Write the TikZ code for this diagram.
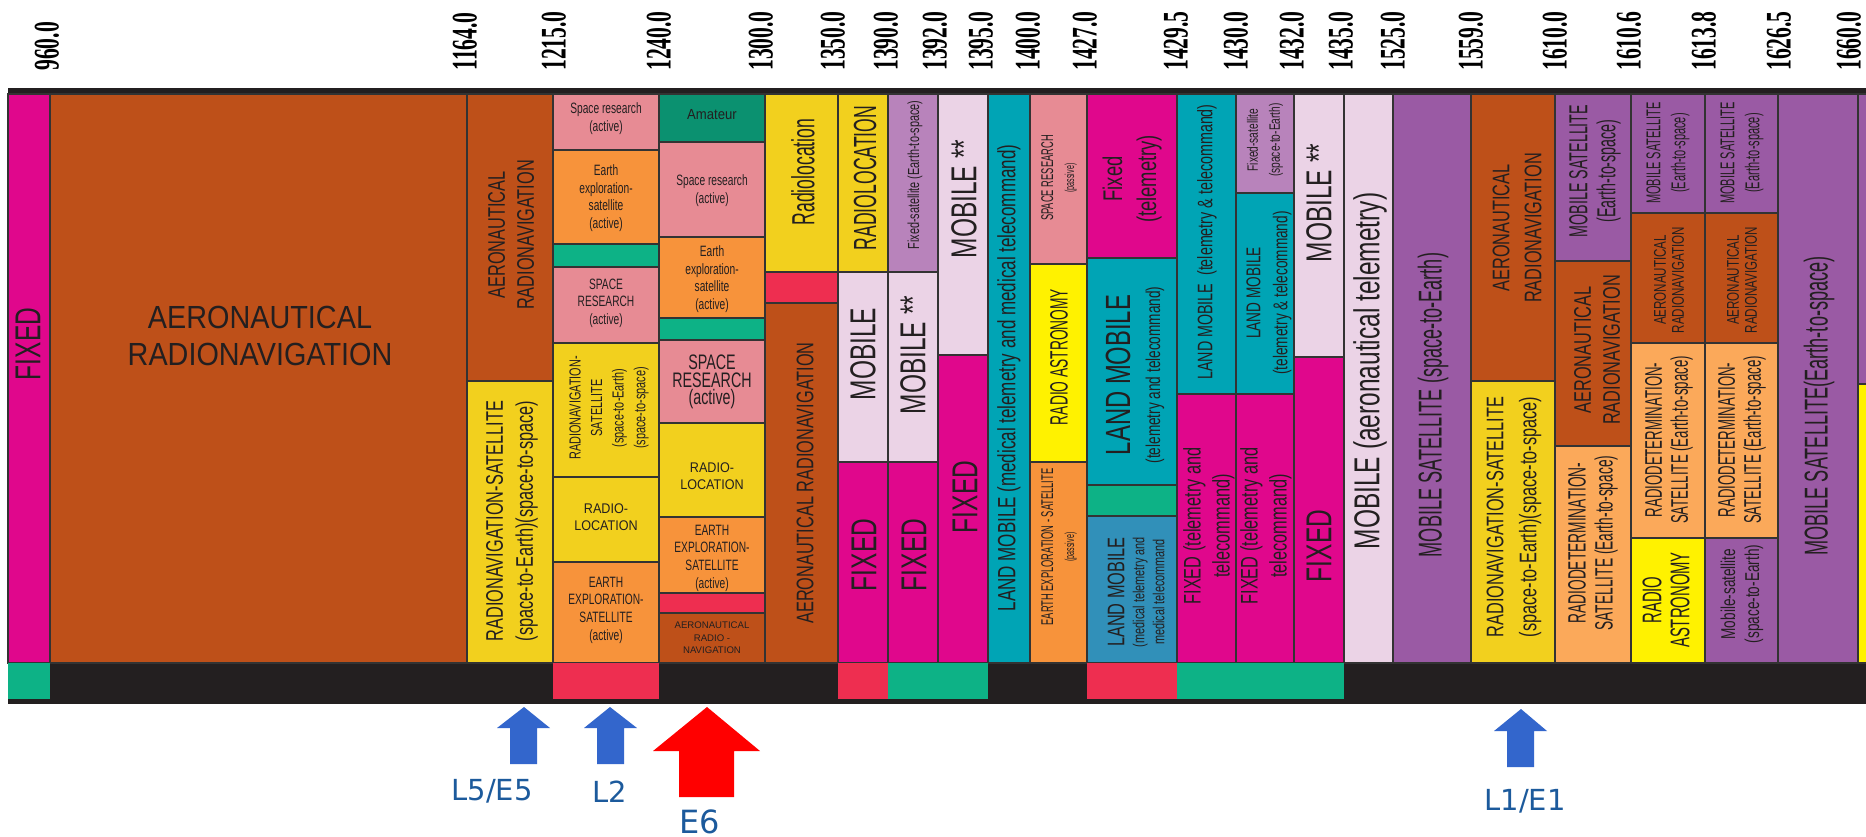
\documentclass[tikz,border=0pt]{standalone}
\usepackage{fontspec}
\setmainfont{Liberation Sans}
\newfontfamily\cnd[FakeStretch=0.68]{Liberation Sans}
\newfontfamily\cndx[FakeStretch=0.55]{Liberation Sans}
\newfontfamily\wid[FakeStretch=0.9]{Liberation Sans}
\newfontfamily\numf[FakeStretch=0.6]{Liberation Serif}
\newfontfamily\lblf{DejaVu Sans}
\newcommand\fz[2]{\fontsize{#1pt}{#2pt}\selectfont}
\definecolor{mag}{HTML}{E0078C}
\definecolor{rust}{HTML}{BE5019}
\definecolor{gold}{HTML}{F2D01E}
\definecolor{byel}{HTML}{FFF200}
\definecolor{pnk}{HTML}{E78B94}
\definecolor{org}{HTML}{F7933B}
\definecolor{lorg}{HTML}{FBA95A}
\definecolor{grn}{HTML}{0DB286}
\definecolor{dgrn}{HTML}{0B9170}
\definecolor{redA}{HTML}{EE2E50}
\definecolor{lpink}{HTML}{EBD3E6}
\definecolor{mauve}{HTML}{B883BB}
\definecolor{purp}{HTML}{9A5AA4}
\definecolor{tealA}{HTML}{00A4B5}
\definecolor{steel}{HTML}{3190B9}
\definecolor{blk}{HTML}{231F20}
\definecolor{bord}{HTML}{333333}
\definecolor{txt}{HTML}{231F20}
\definecolor{abl}{HTML}{3366CC}
\definecolor{ared}{HTML}{FF0000}
\definecolor{lblc}{HTML}{1C5A9C}
\newcommand\cellr[5]{\filldraw[cell,fill=#5] (#1,#2) rectangle (#3,#4);}
\begin{document}
\begin{tikzpicture}[x=0.5pt,y=-0.5pt,
 cell/.style={draw=bord,line width=1.1pt},
 vt/.style={rotate=90,align=center,inner sep=0pt,text=txt},
 ht/.style={align=center,inner sep=0pt,text=txt},
 numlab/.style={rotate=90,anchor=west,inner sep=0pt,font=\numf\bfseries\fz{18}{20}},
 lab/.style={anchor=base,inner sep=0pt,text=lblc,font=\lblf\fz{14.5}{18}},
 big/.style={vt,font=\cnd\fz{18}{20}}]
\useasboundingbox (0,0) rectangle (1866,836);
\fill[white] (0,0) rectangle (1866,836);
% frequency labels
\foreach \posx/\flab [count=\k] in {47/960.0,465/1164.0,554/1215.0,659/1240.0,761/1300.0,833/1350.0,886/1390.0,935/1392.0,981/1395.0,1028/1400.0,1085/1427.0,1176/1429.5,1236/1430.0,1292/1432.0,1341/1435.0,1393/1525.0,1471/1559.0,1555/1610.0,1629/1610.6,1704/1613.8,1779/1626.5,1849/1660.0}
 {\node[numlab] (f\k) at (\posx,71) {\flab};}
% dark frame
\fill[blk] (8,88) rectangle (1866,704);
% columns
\cellr{8}{94}{50}{663}{mag}
\cellr{50}{94}{467}{663}{rust}
\cellr{467}{94}{553}{381}{rust}
\cellr{467}{381}{553}{663}{gold}
% D
\cellr{553}{94}{659}{150}{pnk}
\cellr{553}{150}{659}{244}{org}
\cellr{553}{244}{659}{267}{grn}
\cellr{553}{267}{659}{343}{pnk}
\cellr{553}{343}{659}{477}{gold}
\cellr{553}{477}{659}{562}{gold}
\cellr{553}{562}{659}{663}{org}
% E
\cellr{659}{94}{765}{142}{dgrn}
\cellr{659}{142}{765}{237}{pnk}
\cellr{659}{237}{765}{318}{org}
\cellr{659}{318}{765}{340}{grn}
\cellr{659}{340}{765}{423}{pnk}
\cellr{659}{423}{765}{517}{gold}
\cellr{659}{517}{765}{593}{org}
\cellr{659}{593}{765}{613}{redA}
\cellr{659}{613}{765}{663}{rust}
% F
\cellr{765}{94}{838}{272}{gold}
\cellr{765}{272}{838}{303}{redA}
\cellr{765}{303}{838}{663}{rust}
% G
\cellr{838}{94}{888}{272}{gold}
\cellr{838}{272}{888}{462}{lpink}
\cellr{838}{462}{888}{663}{mag}
% H
\cellr{888}{94}{938}{272}{mauve}
\cellr{888}{272}{938}{462}{lpink}
\cellr{888}{462}{938}{663}{mag}
% I
\cellr{938}{94}{988}{355}{lpink}
\cellr{938}{355}{988}{663}{mag}
% J
\cellr{988}{94}{1030}{663}{tealA}
% K
\cellr{1030}{94}{1087}{264}{pnk}
\cellr{1030}{264}{1087}{462}{byel}
\cellr{1030}{462}{1087}{663}{org}
% L
\cellr{1087}{94}{1177}{258}{mag}
\cellr{1087}{258}{1177}{485}{tealA}
\cellr{1087}{485}{1177}{516}{grn}
\cellr{1087}{516}{1177}{663}{steel}
% M
\cellr{1177}{94}{1236}{394}{tealA}
\cellr{1177}{394}{1236}{663}{mag}
% N
\cellr{1236}{94}{1294}{193}{mauve}
\cellr{1236}{193}{1294}{394}{tealA}
\cellr{1236}{394}{1294}{663}{mag}
% O
\cellr{1294}{94}{1344}{357}{lpink}
\cellr{1294}{357}{1344}{663}{mag}
% P Q
\cellr{1344}{94}{1393}{663}{lpink}
\cellr{1393}{94}{1471}{663}{purp}
% R
\cellr{1471}{94}{1555}{381}{rust}
\cellr{1471}{381}{1555}{663}{gold}
% S
\cellr{1555}{94}{1631}{261}{purp}
\cellr{1555}{261}{1631}{446}{rust}
\cellr{1555}{446}{1631}{663}{lorg}
% T
\cellr{1631}{94}{1705}{213}{purp}
\cellr{1631}{213}{1705}{343}{rust}
\cellr{1631}{343}{1705}{538}{lorg}
\cellr{1631}{538}{1705}{663}{byel}
% U
\cellr{1705}{94}{1778}{213}{purp}
\cellr{1705}{213}{1778}{343}{rust}
\cellr{1705}{343}{1778}{538}{lorg}
\cellr{1705}{538}{1778}{663}{purp}
% V W
\cellr{1778}{94}{1858}{663}{purp}
\cellr{1858}{94}{1870}{384}{purp}
\cellr{1858}{384}{1870}{663}{byel}
% bottom strips
\fill[grn] (8,663) rectangle (50,699);
\fill[redA] (553,663) rectangle (659,699);
\fill[redA] (838,663) rectangle (888,699);
\fill[grn] (888,663) rectangle (988,699);
\fill[redA] (1087,663) rectangle (1177,699);
\fill[grn] (1177,663) rectangle (1344,699);
% texts
\node[big] (a1) at (28,344) {FIXED};
\node[ht,font=\wid\fz{16}{18.5}] (b1) at (260,336) {AERONAUTICAL\\RADIONAVIGATION};
\node[vt,font=\cnd\fz{12}{14.5}] (c1) at (511,235) {AERONAUTICAL\\RADIONAVIGATION};
\node[vt,font=\cnd\fz{12}{15}] (c2) at (512,521) {RADIONAVIGATION-SATELLITE\\(space-to-Earth)(space-to-space)};
\node[ht,font=\cnd\fz{7.5}{9}] (d1) at (606,119) {Space research\\(active)};
\node[ht,font=\cnd\fz{7.5}{8.8}] (d2) at (606,198) {Earth\\exploration-\\satellite\\(active)};
\node[ht,font=\cnd\fz{7.5}{8.8}] (d3) at (606,303) {SPACE\\RESEARCH\\(active)};
\node[vt,font=\cnd\fz{8}{10.8}] (d4) at (609,408) {RADIONAVIGATION-\\SATELLITE\\(space-to-Earth)\\(space-to-space)};
\node[ht,font=\wid\fz{7}{8.5}] (d5) at (606,517) {RADIO-\\LOCATION};
\node[ht,font=\cnd\fz{7.5}{8.8}] (d6) at (606,610) {EARTH\\EXPLORATION-\\SATELLITE\\(active)};
\node[ht,font=\wid\fz{7.3}{9}] (e1) at (712,115) {Amateur};
\node[ht,font=\cnd\fz{7.5}{9}] (e2) at (712,191) {Space research\\(active)};
\node[ht,font=\cnd\fz{7.5}{8.8}] (e3) at (712,279) {Earth\\exploration-\\satellite\\(active)};
\node[ht,font=\cnd\fz{10.5}{8.8}] (e4) at (712,382) {SPACE\\RESEARCH\\(active)};
\node[ht,font=\wid\fz{7}{8.5}] (e5) at (712,476) {RADIO-\\LOCATION};
\node[ht,font=\cnd\fz{7.5}{8.8}] (e6) at (712,558) {EARTH\\EXPLORATION-\\SATELLITE\\(active)};
\node[ht,font=\fz{4.8}{6.3}] (e7) at (712,638) {AERONAUTICAL\\RADIO -\\NAVIGATION};
\node[vt,font=\cndx\fz{16}{18}] (g0) at (803,172) {Radiolocation};
\node[vt,font=\cnd\fz{12}{14}] (g00) at (805,483) {AERONAUTICAL RADIONAVIGATION};
\node[vt,font=\cndx\fz{16}{18}] (g1) at (865,178) {RADIOLOCATION};
\node[big] (g2) at (863,354) {MOBILE};
\node[big] (g3) at (864,555) {FIXED};
\node[vt,font=\cnd\fz{8}{10}] (h1) at (915,175) {Fixed-satellite (Earth-to-space)};
\node[big] (h2) at (913,355) {MOBILE **};
\node[big] (h3) at (914,555) {FIXED};
\node[big] (i1) at (964,199) {MOBILE **};
\node[big] (i2) at (965,497) {FIXED};
\node[vt,font=\cnd\fz{12.5}{14}] (j1) at (1009,378) {LAND MOBILE (medical telemetry and medical telecommand)};
\node[vt,font=\cndx\fz{8.5}{10.5}] (k1) at (1059,178) {SPACE RESEARCH\\{\fz{6.5}{10.5}(passive)}};
\node[vt,font=\cndx\fz{12.5}{14}] (k2) at (1059,357) {RADIO ASTRONOMY};
\node[vt,font=\cndx\fz{8.5}{10.5}] (k3) at (1059,547) {EARTH EXPLORATION - SATELLITE\\{\fz{6.5}{10.5}(passive)}};
\node[vt,font=\cnd\fz{13.5}{17}] (l1) at (1132,179) {Fixed\\(telemetry)};
\node[vt,font=\cnd\fz{10}{15}] (l2) at (1135,375) {{\fz{17.5}{15}LAND MOBILE}\\(telemetry and telecommand)};
\node[vt,font=\cnd\fz{8}{10}] (l3) at (1136,592) {{\fz{12}{10}LAND MOBILE}\\(medical telemetry and\\medical telecommand};
\node[vt,font=\cnd\fz{10.5}{12}] (m1) at (1207,242) {LAND MOBILE\ \ (telemetry \& telecommand)};
\node[vt,font=\cnd\fz{12}{14.5}] (m2) at (1209,526) {FIXED (telemetry and\\telecommand)};
\node[vt,font=\cnd\fz{7.5}{11}] (n1) at (1265,140) {Fixed-satellite\\(space-to-Earth)};
\node[vt,font=\cnd\fz{10}{13.5}] (n2) at (1269,293) {LAND MOBILE\\(telemetry \& telecommand)};
\node[vt,font=\cnd\fz{12}{14.5}] (n3) at (1266,526) {FIXED (telemetry and\\telecommand)};
\node[big] (o1) at (1319,203) {MOBILE **};
\node[big] (o2) at (1319,546) {FIXED};
\node[big] (p1) at (1370,371) {MOBILE (aeronautical telemetry)};
\node[vt,font=\cndx\fz{16.5}{18}] (q1) at (1433,405) {MOBILE SATELLITE (space-to-Earth)};
\node[vt,font=\cnd\fz{12}{16}] (r1) at (1517,228) {AERONAUTICAL\\RADIONAVIGATION};
\node[vt,font=\cnd\fz{12}{16.5}] (r2) at (1514,517) {RADIONAVIGATION-SATELLITE\\(space-to-Earth)(space-to-space)};
\node[vt,font=\cndx\fz{13}{14}] (s1) at (1595,171) {MOBILE SATELLITE\\(Earth-to-space)};
\node[vt,font=\cnd\fz{12}{14.5}] (s2) at (1597,350) {AERONAUTICAL\\RADIONAVIGATION};
\node[vt,font=\cndx\fz{12.5}{13.5}] (s3) at (1593,543) {RADIODETERMINATION-\\SATELLITE (Earth-to-space)};
\node[vt,font=\cndx\fz{10}{12.5}] (t1) at (1668,153) {MOBILE SATELLITE\\(Earth-to-space)};
\node[vt,font=\cnd\fz{8.5}{9}] (t2) at (1669,280) {AERONAUTICAL\\RADIONAVIGATION};
\node[vt,font=\cndx\fz{12}{13}] (t3) at (1669,440) {RADIODETERMINATION-\\SATELLITE (Earth-to-space)};
\node[vt,font=\cndx\fz{13.5}{14}] (t4) at (1666,600) {RADIO\\ASTRONOMY};
\node[vt,font=\cndx\fz{10}{12.5}] (u1) at (1742,153) {MOBILE SATELLITE\\(Earth-to-space)};
\node[vt,font=\cnd\fz{8.5}{9}] (u2) at (1742,280) {AERONAUTICAL\\RADIONAVIGATION};
\node[vt,font=\cndx\fz{12}{13}] (u3) at (1742,440) {RADIODETERMINATION-\\SATELLITE (Earth-to-space)};
\node[vt,font=\cnd\fz{10}{12}] (u4) at (1742,594) {Mobile-satellite\\(space-to-Earth)};
\node[vt,font=\cndx\fz{16.5}{18}] (v1) at (1819,406) {MOBILE SATELLITE(Earth-to-space)};
% arrows
\fill[abl] (524,707) -- (550,728) -- (537,728) -- (537,764) -- (510,764) -- (510,728) -- (497,728) -- cycle;
\fill[abl] (610,707) -- (637,728) -- (624,728) -- (624,764) -- (597,764) -- (597,728) -- (584,728) -- cycle;
\fill[ared] (707,707) -- (760,751) -- (734,751) -- (734,797) -- (679,797) -- (679,751) -- (653,751) -- cycle;
\fill[abl] (1521,709) -- (1547,731) -- (1534,731) -- (1534,767) -- (1507,767) -- (1507,731) -- (1494,731) -- cycle;
\node[lab] (x1) at (492,800) {L5/E5};
\node[lab] (x2) at (610,802) {L2};
\node[lab,font=\lblf\fz{16}{18}] (x3) at (700,833) {E6};
\node[lab] (x4) at (1525,810) {L1/E1};
\end{tikzpicture}
\end{document}
